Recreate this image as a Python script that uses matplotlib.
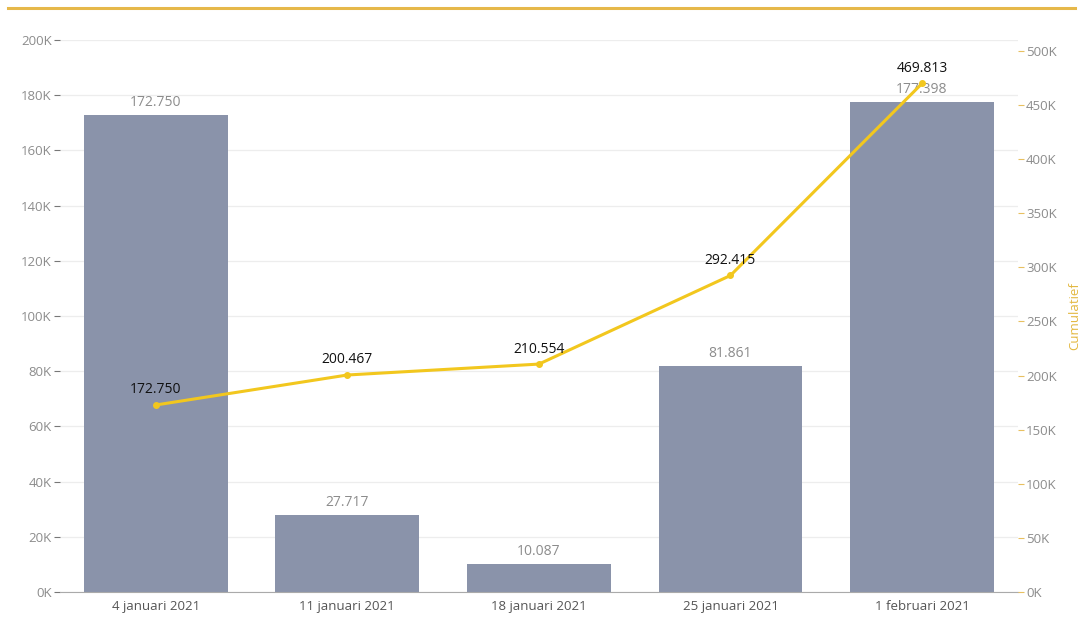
import matplotlib
matplotlib.use("Agg")
import matplotlib.pyplot as plt
from matplotlib.ticker import FuncFormatter, MultipleLocator

categories = ["4 januari 2021", "11 januari 2021", "18 januari 2021", "25 januari 2021", "1 februari 2021"]
weekly = [172750, 27717, 10087, 81861, 177398]
cumulative = [172750, 200467, 210554, 292415, 469813]
weekly_labels = ["172.750", "27.717", "10.087", "81.861", "177.398"]
cumulative_labels = ["172.750", "200.467", "210.554", "292.415", "469.813"]

plt.rcParams['font.family'] = ['Open Sans', 'DejaVu Sans']

fig = plt.figure(figsize=(10.86, 6.2), dpi=100)
ax = fig.add_axes([0.0552, 0.0452, 0.8820, 0.8903])
ax2 = ax.twinx()

bar_color = "#8A93AA"
line_color = "#F2C71E"
tick_color = "#8C8C8C"

x = list(range(len(categories)))
ax.bar(x, weekly, width=0.75, color=bar_color, zorder=2)
for xi, v, lab in zip(x, weekly, weekly_labels):
    ax.text(xi, v + 2000, lab, ha="center", va="bottom", fontsize=10, color="#8C8C8C", zorder=3)

ax.set_xlim(-0.5, 4.5)
ax.set_ylim(0, 200000)
ax.yaxis.set_major_locator(MultipleLocator(20000))
ax.yaxis.set_major_formatter(FuncFormatter(lambda v, p: f"{int(v/1000)}K"))
ax.grid(axis="y", color="#EDEDED", linewidth=0.9, zorder=0)
ax.set_axisbelow(True)
ax.set_xticks(x)
ax.set_xticklabels(categories)
ax.tick_params(axis="x", length=0, labelsize=9.5, labelcolor="#555555", pad=6)
ax.tick_params(axis="y", length=4, width=0.8, color="#777777", labelsize=9.5, labelcolor=tick_color, pad=2)
for s in ["top", "right", "left"]:
    ax.spines[s].set_visible(False)
ax.spines["bottom"].set_color("#AAAAAA")

ax2.plot(x, cumulative, color=line_color, linewidth=2.2, marker="o", markersize=4, zorder=5)
for xi, v, lab in zip(x, cumulative, cumulative_labels):
    ax2.text(xi, v + 7000, lab, ha="center", va="bottom", fontsize=10, color="#111111", zorder=6)
ax2.set_ylim(0, 510000)
ax2.yaxis.set_major_locator(MultipleLocator(50000))
ax2.yaxis.set_major_formatter(FuncFormatter(lambda v, p: f"{int(v/1000)}K"))
ax2.tick_params(axis="y", length=4, width=0.8, color="#E8C060", labelsize=9.5, labelcolor=tick_color, pad=2)
for s in ["top", "right", "left", "bottom"]:
    ax2.spines[s].set_visible(False)
ax2.set_ylabel("Cumulatief", color="#E3B840", fontsize=9.5, labelpad=8)

fig.add_artist(plt.Line2D([0.007, 0.99], [0.987, 0.987], color="#E6B84A", linewidth=2.2, transform=fig.transFigure))

fig.savefig("out.png", dpi=100)
